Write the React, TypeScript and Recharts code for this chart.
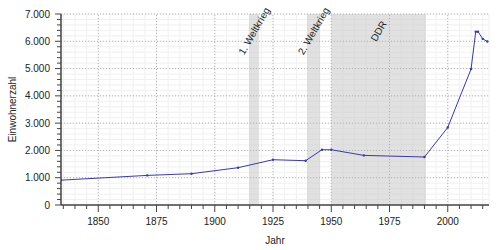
import { LineChart, Line, XAxis, YAxis, CartesianGrid, ReferenceArea, ReferenceLine } from 'recharts'

// Einwohnerentwicklung
const years = [1834, 1871, 1890, 1910, 1925, 1939, 1946, 1950, 1964, 1990, 2000, 2010, 2012, 2013, 2015, 2017]
const population = [910, 1085, 1147, 1367, 1660, 1623, 2025, 2025, 1818, 1759, 2843, 4983, 6350, 6350, 6090, 5990]

// historische Zeiträume
const periodNames = ['1. Weltkrieg', '2. Weltkrieg', 'DDR']
const periodStart = [1914.7, 1939.6, 1950]
const periodEnd = [1919, 1945.2, 1990.6]

// Achsenbeschriftung
const yearTicks = [1850, 1875, 1900, 1925, 1950, 1975, 2000]
const popTicks = [0, 1000, 2000, 3000, 4000, 5000, 6000, 7000]

const LINE = '#3a3aa6'
const AXIS = '#444'
const TEXT = '#222'

const data = years.map((year, i) => ({ year, population: population[i] }))

// kleine Zwischenstriche (alle 5 Jahre / alle 200 Einwohner)
const minorYears: number[] = []
for (let y = 1835; y <= 2015; y += 5) minorYears.push(y)
const minorPop: number[] = []
for (let p = 0; p <= 7000; p += 200) minorPop.push(p)

function YearTick({ x, y, payload }: any) {
  const major = payload.value % 25 === 0
  return (
    <g>
      <line x1={x} x2={x} y1={y} y2={y + (major ? 7 : 4)} stroke={AXIS} strokeWidth={1} />
      {major && (
        <text x={x} y={y + 20} textAnchor="middle" fontSize={10} fill={TEXT}>
          {payload.value}
        </text>
      )}
    </g>
  )
}

function PopTick({ x, y, payload }: any) {
  const major = payload.value % 1000 === 0
  return (
    <g>
      <line x1={x} x2={x - (major ? 6 : 4)} y1={y} y2={y} stroke={AXIS} strokeWidth={1} />
      {major && (
        <text x={x - 11} y={y + 3.6} textAnchor="end" fontSize={10} fill={TEXT}>
          {payload.value.toLocaleString('de-DE')}
        </text>
      )}
    </g>
  )
}

function BandLabel({ viewBox, text }: any) {
  if (!viewBox) return null
  const cx = viewBox.x + viewBox.width / 2
  const cy = viewBox.y + 17
  return (
    <text
      x={cx}
      y={cy}
      transform={`rotate(-60 ${cx} ${cy})`}
      textAnchor="middle"
      dominantBaseline="central"
      fontSize={10}
      fill={TEXT}
    >
      {text}
    </text>
  )
}

export default function App() {
  return (
    <div
      style={{
        position: 'fixed',
        left: 0,
        top: 0,
        width: 500,
        height: 250,
        background: '#fff',
        fontFamily: '"Liberation Sans", Arial, sans-serif',
      }}
    >
      <LineChart width={500} height={250} data={data} margin={{ top: 14, right: 11, bottom: 0, left: 0 }}>
        <CartesianGrid stroke="#f0f0f0" strokeWidth={1} />
        <XAxis
          dataKey="year"
          type="number"
          domain={[1834, 2017.7]}
          ticks={minorYears}
          interval={0}
          tick={<YearTick />}
          tickSize={0}
          tickMargin={0}
          tickLine={false}
          height={45}
          axisLine={{ stroke: AXIS, strokeWidth: 1.5 }}
          allowDataOverflow
          label={(p: any) => (
            <text
              x={p.viewBox.x + p.viewBox.width / 2}
              y={p.viewBox.y + 39}
              textAnchor="middle"
              fontSize={10}
              fill={TEXT}
            >
              Jahr
            </text>
          )}
        />
        <YAxis
          type="number"
          domain={[0, 7000]}
          ticks={minorPop}
          interval={0}
          tick={<PopTick />}
          tickSize={0}
          tickMargin={0}
          tickLine={false}
          width={61}
          axisLine={{ stroke: AXIS, strokeWidth: 1.5 }}
          label={(p: any) => {
            const x = p.viewBox.x + 12
            const y = p.viewBox.y + p.viewBox.height / 2
            return (
              <text x={x} y={y} transform={`rotate(-90 ${x} ${y})`} textAnchor="middle" dominantBaseline="central" fontSize={10} fill={TEXT}>
                Einwohnerzahl
              </text>
            )
          }}
        />
        {periodNames.map((name, i) => (
          <ReferenceArea
            key={name}
            x1={periodStart[i]}
            x2={periodEnd[i]}
            y1={0}
            y2={7000}
            fill="#c8c8c8"
            fillOpacity={0.55}
            stroke="none"
            label={(p: any) => <BandLabel viewBox={p.viewBox} text={name} />}
          />
        ))}
        {yearTicks.map((t) => (
          <ReferenceLine key={'x' + t} x={t} stroke="#b4b4b4" strokeDasharray="1 2" />
        ))}
        {popTicks.slice(1).map((t) => (
          <ReferenceLine key={'y' + t} y={t} stroke="#b4b4b4" strokeDasharray="1 2" />
        ))}
        <Line
          type="linear"
          dataKey="population"
          stroke={LINE}
          strokeWidth={1}
          dot={{ r: 1.2, fill: LINE, stroke: 'none' }}
          isAnimationActive={false}
        />
      </LineChart>
    </div>
  )
}
